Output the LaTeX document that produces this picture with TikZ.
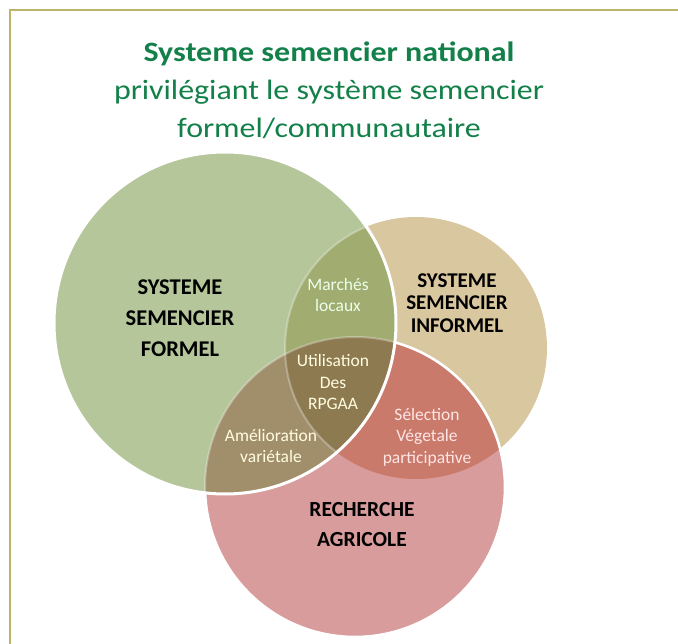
\documentclass[tikz,border=0pt]{standalone}
\usepackage{fontspec}
\setmainfont{Carlito}
\begin{document}
\definecolor{frameline}{HTML}{BDB46C}
\definecolor{titlegreen}{HTML}{13804A}
\definecolor{formelfill}{HTML}{B5C69B}
\definecolor{informelfill}{HTML}{D9C7A0}
\definecolor{recherchefill}{HTML}{D99C9C}
\definecolor{marchesfill}{HTML}{A0AC70}
\definecolor{ameliofill}{HTML}{A18F6C}
\definecolor{utilfill}{HTML}{8D7A50}
\definecolor{selectfill}{HTML}{C97A6A}
\begin{tikzpicture}[x=1pt,y=-1pt,
  biglabel/.style={align=center,text=black},
  smalllabel/.style={align=center,font=\fontsize{17.5}{21.5}\selectfont},
  whiteline/.style={draw=white,line width=2.6pt}]
\useasboundingbox (0,0) rectangle (678,644);
\fill[white] (0,0) rectangle (678,644);
% frame
\draw[frameline,line width=1.6pt] (10,646) -- (10,10) -- (680,10);

% circle geometry
\def\formelpath{(225,323) circle[radius=171]}
\def\informelpath{(416,348) circle[radius=131]}
\def\recherchepath{(355,487) circle[radius=150]}

% base discs
\fill[informelfill] \informelpath;
\fill[recherchefill] \recherchepath;
\begin{scope}
  \clip \informelpath;
  \fill[selectfill] \recherchepath;
\end{scope}
\draw[whiteline] \recherchepath;

\fill[formelfill] \formelpath;
\begin{scope}
  \clip \formelpath;
  \fill[marchesfill] \informelpath;
  \fill[ameliofill] \recherchepath;
  \clip \informelpath;
  \fill[utilfill] \recherchepath;
\end{scope}
\begin{scope}
  \clip \formelpath;
  \draw[draw=white,line width=2pt,opacity=0.3] \informelpath;
  \draw[draw=white,line width=2pt,opacity=0.3] \recherchepath;
\end{scope}
\draw[whiteline,line width=3pt] \formelpath;

% title
\node[align=center,text=titlegreen,font=\fontsize{28}{38}\selectfont,
      xscale=1.14,transform shape] (title) at (329,90)
  {\textbf{Systeme semencier national}\\privilégiant le système semencier\\formel/communautaire};

% circle labels
\node[biglabel,font=\fontsize{22.5}{31}\selectfont\bfseries] (formel) at (180,318) {SYSTEME\\SEMENCIER\\FORMEL};
\node[biglabel,font=\fontsize{21}{22.5}\selectfont\bfseries] (informel) at (457,303) {SYSTEME\\SEMENCIER\\INFORMEL};
\node[biglabel,font=\fontsize{21.5}{30}\selectfont\bfseries] (recherche) at (362,525) {RECHERCHE\\AGRICOLE};

% overlap labels
\node[smalllabel,text=white!92!green] (marches) at (338,295) {Marchés\\locaux};
\node[smalllabel,text=white!88!yellow] (util) at (333,382) {Utilisation\\Des\\RPGAA};
\node[smalllabel,text=white!90!red] (select) at (427,437) {Sélection\\Végetale\\participative};
\node[smalllabel,text=white!88!yellow] (amelio) at (271,446) {Amélioration\\variétale};
\end{tikzpicture}
\end{document}
